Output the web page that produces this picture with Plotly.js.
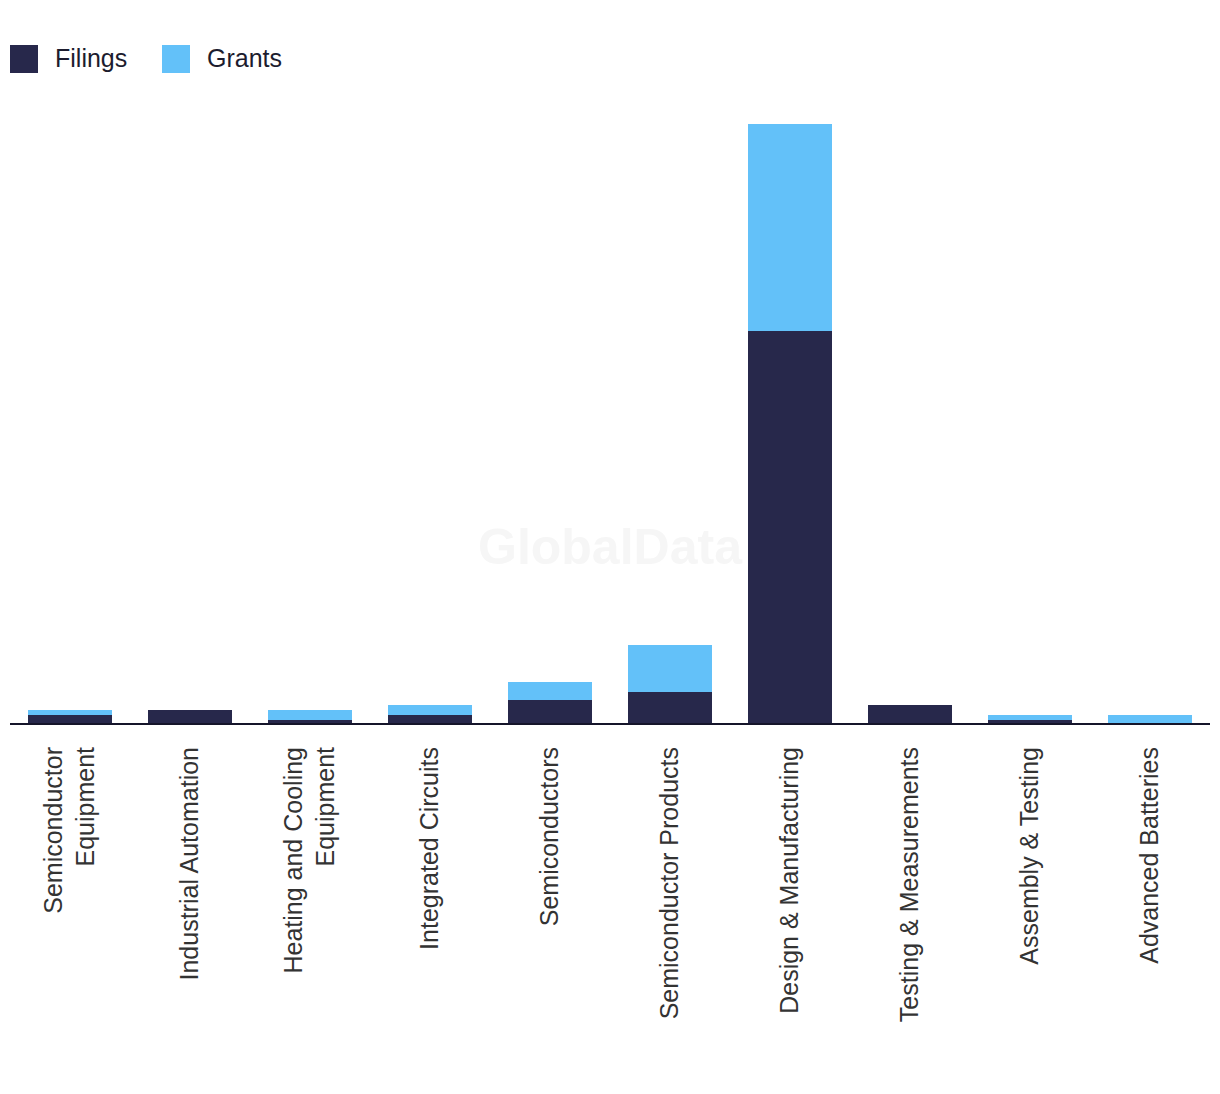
<!DOCTYPE html>
<html>
<head>
<meta charset="utf-8">
<script src="https://cdn.plot.ly/plotly-3.0.1.min.js"></script>
<style>html,body{margin:0;padding:0;background:#fff;}#chart{width:1220px;height:1094px;}</style>
</head>
<body>
<div id="chart"></div>
<script>
const categories = ["Semiconductor<br>Equipment", "Industrial Automation", "Heating and Cooling<br>Equipment", "Integrated Circuits", "Semiconductors", "Semiconductor Products", "Design & Manufacturing", "Testing & Measurements", "Assembly & Testing", "Advanced Batteries"];
const filings = [3, 5, 1, 3, 9, 12, 151, 7, 1, 0];
const grants = [2, 0, 4, 4, 7, 18, 80, 0, 2, 3];
const seriesNames = ["Filings", "Grants"];
const seriesColors = ["#27284b", "#63c1f9"];

const traces = [
  {type: "bar", name: seriesNames[0], x: categories, y: filings, marker: {color: seriesColors[0]}, showlegend: false, hoverinfo: "x+y+name"},
  {type: "bar", name: seriesNames[1], x: categories, y: grants, marker: {color: seriesColors[1]}, showlegend: false, hoverinfo: "x+y+name"}
];

const totals = filings.map((v, i) => v + grants[i]);
const ymax = Math.max(...totals);

const font = "Liberation Sans, Arial, sans-serif";
const shapes = [];
const annotations = [];
const legendX = [0, 152 / 1200];
seriesNames.forEach((n, i) => {
  shapes.push({type: "rect", xref: "paper", yref: "paper", x0: legendX[i], x1: legendX[i] + 28 / 1200, y0: (723 - 73) / 599, y1: (723 - 45) / 599, fillcolor: seriesColors[i], line: {width: 0}});
  annotations.push({xref: "paper", yref: "paper", x: legendX[i] + 43 / 1200, y: (723 - 58) / 599, text: n, showarrow: false, xanchor: "left", yanchor: "middle", font: {family: font, size: 25, color: "#1c1c2e"}});
});
annotations.push({xref: "paper", yref: "paper", x: 0.5, y: (723 - 547) / 599, text: "<b>GlobalData</b>", showarrow: false, xanchor: "center", yanchor: "middle", font: {family: font, size: 50, color: "#f6f6f6"}});

const layout = {
  width: 1220, height: 1094,
  margin: {l: 10, r: 10, t: 124, b: 371, pad: 0},
  paper_bgcolor: "#ffffff", plot_bgcolor: "#ffffff",
  barmode: "stack", bargap: 0.3,
  showlegend: false,
  xaxis: {tickangle: -90, tickfont: {family: font, size: 25, color: "#333333"}, ticklabelstandoff: 12, showline: true, linecolor: "#15152a", linewidth: 2, ticks: "", showgrid: false, zeroline: false, automargin: false},
  yaxis: {range: [0, ymax], visible: false, showgrid: false, zeroline: false},
  shapes: shapes,
  annotations: annotations
};

Plotly.newPlot("chart", traces, layout, {displayModeBar: false, responsive: false});
</script>
</body>
</html>
